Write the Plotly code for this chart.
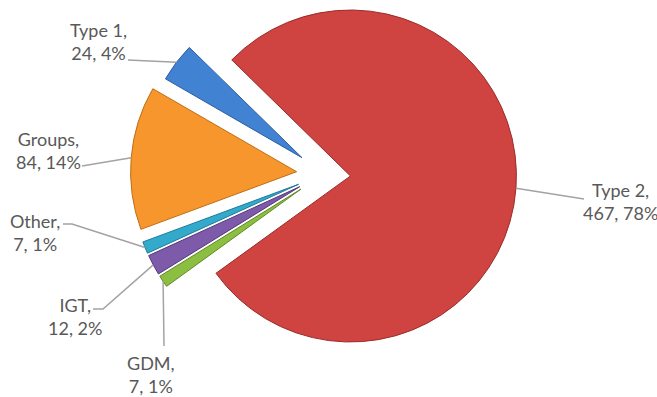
import math
import plotly.graph_objects as go

# Patient counts by diabetes category (clockwise order from the first slice)
labels = ["Type 1", "Type 2", "GDM", "IGT", "Other", "Groups"]
counts = [24, 467, 7, 12, 7, 84]
slice_colors = ["#4282d2", "#cf4341", "#8cbe41", "#7d5aaa", "#33a9cc", "#f7962d"]
edge_colors = ["#2c5f9e", "#9a2c2a", "#5f8a27", "#54397a", "#1f7c98", "#c06d14"]

# Canvas and pie geometry (pixels)
W, H = 657, 397
CX, CY = 323.5, 174.0      # pie centre before exploding
RADIUS = 166.0
EXPLODE = 27.0             # distance every slice is pulled out
START_ANGLE = -60.0        # clockwise from 12 o'clock

# Label block centres and the leader-line path from the label to the slice
label_layout = {
    "Type 1": {"pos": (98, 42), "lead": [(128, 60)]},
    "Type 2": {"pos": (620, 201), "lead": [(584, 199)]},
    "GDM":    {"pos": (151, 374), "lead": [(164, 346)]},
    "IGT":    {"pos": (75, 316), "lead": [(93, 309), (103, 309)]},
    "Other":  {"pos": (35, 233), "lead": [(63, 224), (72, 224)]},
    "Groups": {"pos": (48, 150), "lead": [(82, 166)]},
}

total = sum(counts)
fig = go.Figure()
shapes = []
annotations = []

cum = 0
for lab, val, col, edge in zip(labels, counts, slice_colors, edge_colors):
    start = START_ANGLE + cum / total * 360.0
    mid = START_ANGLE + (cum + val / 2.0) / total * 360.0
    cum += val
    ux, uy = math.sin(math.radians(mid)), -math.cos(math.radians(mid))

    # centre of this exploded slice
    sx, sy = CX + EXPLODE * ux, CY + EXPLODE * uy
    r = min(RADIUS, sx, W - sx, sy, H - sy)

    fig.add_trace(go.Pie(
        values=[val, total - val],
        labels=[lab, " "],
        sort=False,
        direction="clockwise",
        rotation=start,
        marker=dict(colors=[col, "rgba(0,0,0,0)"],
                    line=dict(color=[edge, "rgba(0,0,0,0)"], width=[1, 0])),
        textinfo="none",
        hoverinfo=["label+value+percent", "skip"],
        showlegend=False,
        domain=dict(x=[(sx - r) / W, (sx + r) / W],
                    y=[1 - (sy + r) / H, 1 - (sy - r) / H]),
    ))

    # leader line: label side -> middle of the slice's outer arc
    ax, ay = sx + r * ux, sy + r * uy
    pts = label_layout[lab]["lead"] + [(ax, ay)]
    path = "M " + " L ".join(f"{px / W:.5f},{1 - py / H:.5f}" for px, py in pts)
    shapes.append(dict(type="path", xref="paper", yref="paper", path=path,
                       line=dict(color="#a3a3a3", width=1.5), layer="above"))

    pct = round(val / total * 100)
    lx, ly = label_layout[lab]["pos"]
    annotations.append(dict(
        x=lx / W, y=1 - ly / H, xref="paper", yref="paper",
        xanchor="center", yanchor="middle", align="center", showarrow=False,
        text=f"{lab},<br>{val}, {pct}%",
        font=dict(family="Lato", size=18, color="#595959"),
    ))

fig.update_layout(
    width=W, height=H,
    margin=dict(l=0, r=0, t=0, b=0),
    paper_bgcolor="white",
    plot_bgcolor="white",
    shapes=shapes,
    annotations=annotations,
)

fig.write_html("out.html")
